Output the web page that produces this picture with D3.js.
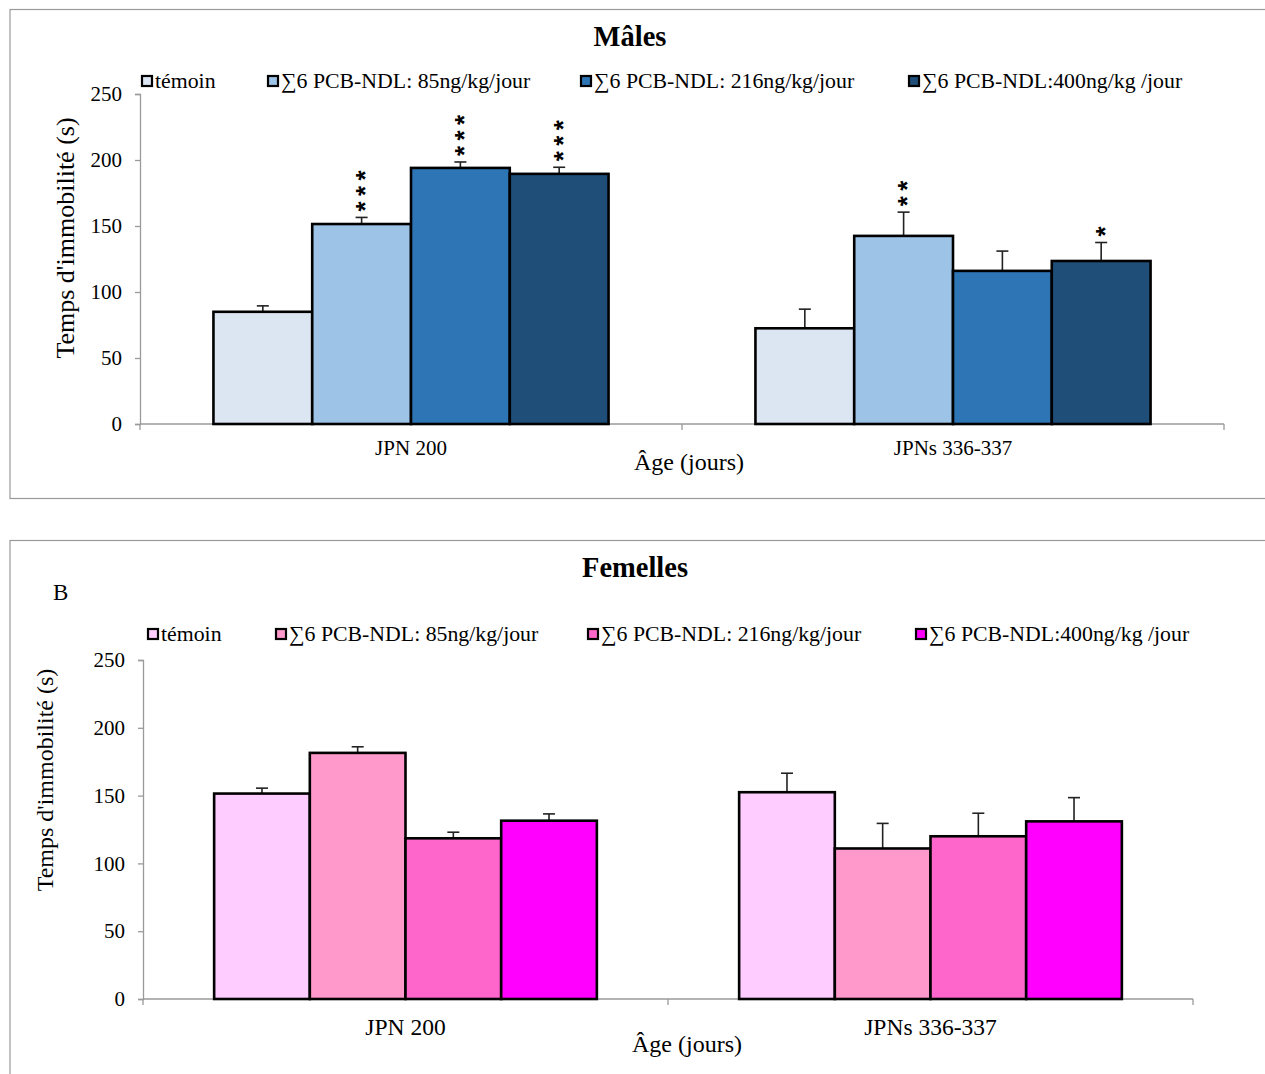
<!DOCTYPE html>
<html>
<head>
<meta charset="utf-8">
<script src="https://cdn.jsdelivr.net/npm/d3@7/dist/d3.min.js"></script>
<style>
  html, body { margin: 0; padding: 0; background: #fff; }
  svg { display: block; }
  text { font-family: "Liberation Serif", "Times New Roman", serif; fill: #000; }
</style>
</head>
<body>
<svg id="chart" width="1265" height="1074"></svg>
<script>
// ---------- data ----------
const categories = ["JPN 200", "JPNs 336-337"];
const seriesNames = ["témoin", "∑6 PCB-NDL: 85ng/kg/jour", "∑6 PCB-NDL: 216ng/kg/jour", "∑6 PCB-NDL:400ng/kg /jour"];
const yTicks = [0, 50, 100, 150, 200, 250];

const maleValues = [[85, 151.5, 194, 189.5], [72.5, 142.5, 116, 123.5]];
const maleErrors = [[4.5, 5, 4.5, 5], [14.5, 18, 15, 14]];
const maleStars = [["", "***", "***", "***"], ["", "**", "", "*"]];
const maleColors = ["#DCE6F2", "#9DC3E6", "#2E75B6", "#1F4E79"];

const femaleValues = [[151.5, 181.5, 118.5, 131.5], [152.5, 111, 120, 131]];
const femaleErrors = [[4, 4.5, 4.5, 5], [14, 18.5, 17, 17.5]];
const femaleStars = [["", "", "", ""], ["", "", "", ""]];
const femaleColors = ["#FFCCFF", "#FF99CC", "#FF66CC", "#FF00FF"];

const svg = d3.select("#chart");

function drawPanel(cfg) {
  const g = svg.append("g");
  // frame
  g.append("rect").attr("x", cfg.frame[0]).attr("y", cfg.frame[1])
    .attr("width", cfg.frame[2]).attr("height", cfg.frame[3])
    .attr("fill", "none").attr("stroke", "#9a9a9a").attr("stroke-width", 1.2);

  const x = d3.scaleBand().domain(categories).range([cfg.x0, cfg.x1]).padding(0);
  const y = d3.scaleLinear().domain([0, 250]).range([cfg.y0, cfg.y1]);
  const groupW = x.bandwidth() * 0.729;
  const xs = d3.scaleBand().domain(d3.range(seriesNames.length))
    .range([(x.bandwidth() - groupW) / 2, (x.bandwidth() + groupW) / 2]).padding(0);

  // y axis
  const ya = g.append("g").attr("transform", `translate(${cfg.x0},0)`)
    .call(d3.axisLeft(y).tickValues(yTicks).tickSize(5).tickPadding(13));
  ya.select(".domain").attr("stroke", "#9a9a9a").attr("stroke-width", 1.3);
  ya.selectAll(".tick line").attr("stroke", "#9a9a9a").attr("stroke-width", 1.3);
  ya.selectAll(".tick text").style("font-family", '"Liberation Serif", "Times New Roman", serif')
    .style("font-size", "21px").attr("fill", "#000");

  // x axis line & ticks at band edges
  const xa = g.append("g").attr("transform", `translate(0,${cfg.y0})`);
  xa.append("line").attr("x1", cfg.x0).attr("x2", cfg.x1).attr("stroke", "#9a9a9a").attr("stroke-width", 1.3);
  const edges = categories.map(c => x(c)).concat([x(categories[categories.length - 1]) + x.bandwidth()]);
  xa.selectAll("line.edge").data(edges).join("line").attr("class", "edge")
    .attr("x1", d => d).attr("x2", d => d).attr("y1", 0).attr("y2", 6)
    .attr("stroke", "#9a9a9a").attr("stroke-width", 1.3);
  xa.selectAll("text.cat").data(categories).join("text").attr("class", "cat")
    .attr("x", d => x(d) + x.bandwidth() / 2).attr("y", cfg.catDy)
    .attr("text-anchor", "middle").style("font-size", cfg.catSize + "px").text(d => d);

  // bars
  categories.forEach((c, ci) => {
    const gc = g.append("g").attr("transform", `translate(${x(c)},0)`);
    cfg.values[ci].forEach((v, si) => {
      const bx = xs(si), bw = xs.bandwidth();
      const e = cfg.errors[ci][si];
      const cx = bx + bw / 2;
      gc.append("line").attr("x1", cx).attr("x2", cx).attr("y1", y(v)).attr("y2", y(v + e))
        .attr("stroke", "#222").attr("stroke-width", 1.6);
      gc.append("line").attr("x1", cx - 6).attr("x2", cx + 6).attr("y1", y(v + e)).attr("y2", y(v + e))
        .attr("stroke", "#222").attr("stroke-width", 1.6);
      gc.append("rect").attr("x", bx).attr("y", y(v)).attr("width", bw).attr("height", y(0) - y(v))
        .attr("fill", cfg.colors[si]).attr("stroke", "#000").attr("stroke-width", 2.6);
      const s = cfg.stars[ci][si];
      if (s.length) {
        // one stacked label: the star string runs upward from above the error cap
        const fs = 26;
        const adv = 0.389 * fs;           // advance of "*" in Liberation Sans Bold
        const step = 15.5;
        const firstCenter = y(v + e) - 11;
        gc.append("text")
          .attr("transform", `translate(${cx},${firstCenter + adv / 2}) rotate(-90)`)
          .attr("x", 0).attr("y", 0).attr("dy", "0.49em")
          .attr("text-anchor", "start")
          .style("font-family", '"Liberation Sans", Arial, sans-serif')
          .style("font-weight", "bold")
          .style("letter-spacing", (step - adv) + "px")
          .style("font-size", fs + "px").text(s);
      }
    });
  });

  // axis titles
  g.append("text").attr("x", cfg.ageX).attr("y", cfg.ageY)
    .attr("text-anchor", "middle").style("font-size", "24px").text("Âge (jours)");
  g.append("text").attr("transform", `translate(${cfg.ytX},${cfg.ytY}) rotate(-90)`)
    .attr("text-anchor", "middle").style("font-size", cfg.ytSize + "px").text("Temps d'immobilité (s)");

  // title
  g.append("text").attr("x", cfg.titleX).attr("y", cfg.titleY).attr("text-anchor", "middle")
    .style("font-size", "28.5px").style("font-weight", "bold").text(cfg.title);

  // legend
  const lg = g.append("g");
  seriesNames.forEach((n, i) => {
    const lx = cfg.legendX[i];
    lg.append("rect").attr("x", lx - 5).attr("y", cfg.legendY - 5).attr("width", 10).attr("height", 10)
      .attr("fill", cfg.colors[i]).attr("stroke", "#000").attr("stroke-width", 2.2);
    lg.append("text").attr("x", lx + 8).attr("y", cfg.legendY + 7).style("font-size", "21.8px").text(n);
  });
  return g;
}

drawPanel({
  frame: [10, 9.5, 1270, 489],
  x0: 140, x1: 1224, y0: 424, y1: 94,
  values: maleValues, errors: maleErrors, stars: maleStars, colors: maleColors,
  catDy: 31, catSize: 21, ageX: 689, ageY: 470, ytX: 74, ytY: 238, ytSize: 26,
  title: "Mâles", titleX: 630, titleY: 46,
  legendX: [147, 273, 586, 914], legendY: 81
});

const fg = drawPanel({
  frame: [10, 540.5, 1270, 560],
  x0: 143, x1: 1193, y0: 999, y1: 660,
  values: femaleValues, errors: femaleErrors, stars: femaleStars, colors: femaleColors,
  catDy: 36, catSize: 23.5, ageX: 687, ageY: 1052, ytX: 53, ytY: 780, ytSize: 24,
  title: "Femelles", titleX: 635, titleY: 577,
  legendX: [153, 281, 593, 921], legendY: 634
});
fg.append("text").attr("x", 53).attr("y", 600).style("font-size", "23px").text("B");
</script>
</body>
</html>
